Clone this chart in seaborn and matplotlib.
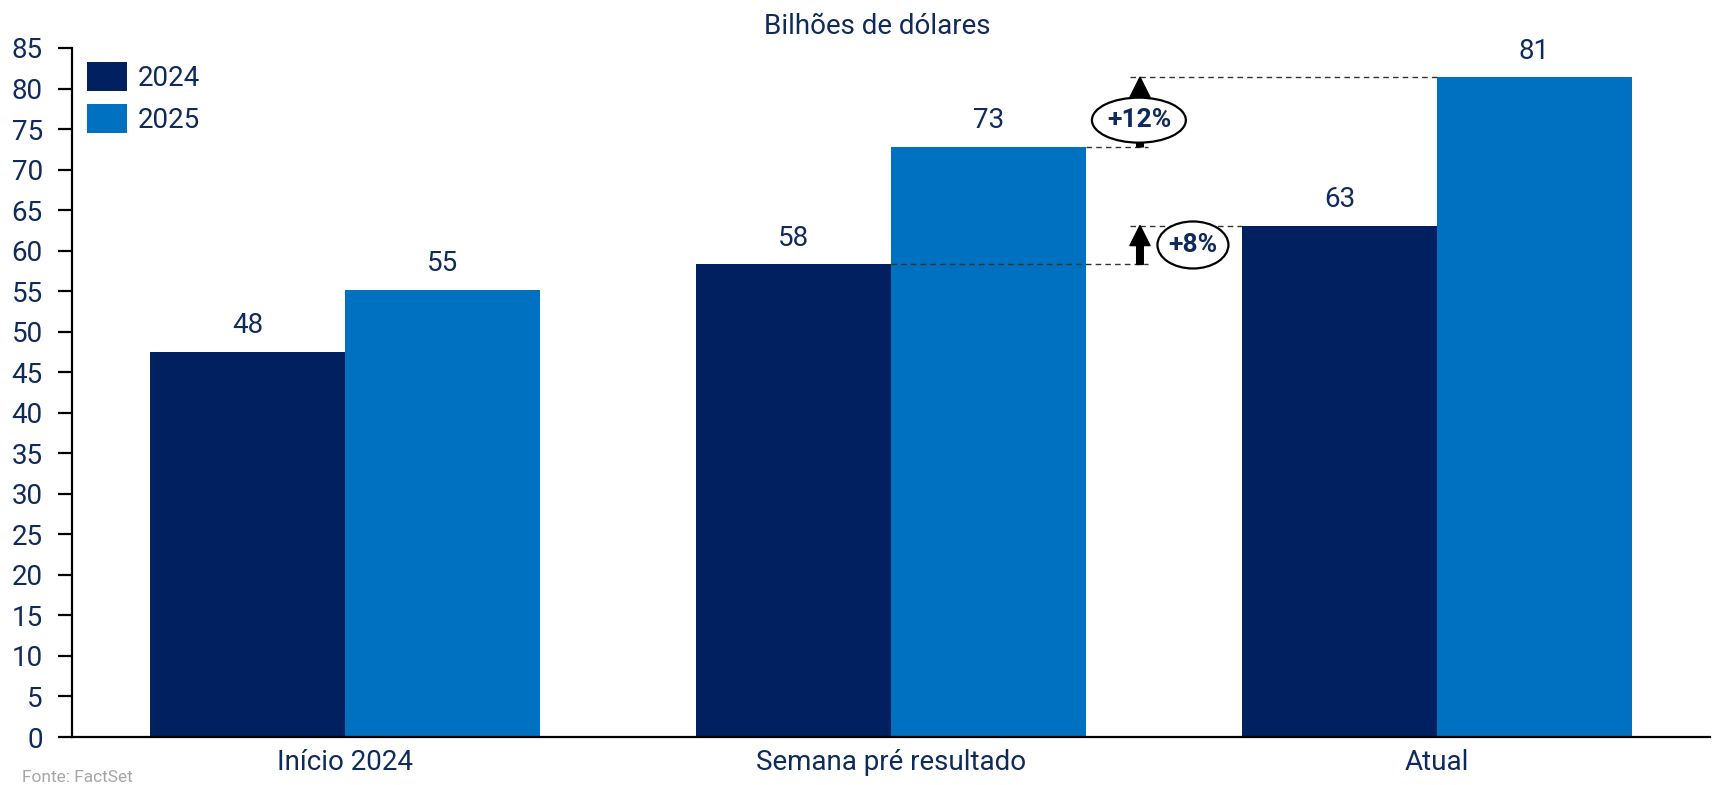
import matplotlib
matplotlib.use("Agg")
import matplotlib.pyplot as plt
import seaborn as sns
import pandas as pd
from matplotlib.patches import Ellipse

categories = ["Início 2024", "Semana pré resultado", "Atual"]
series = ["2024", "2025"]
values_2024 = [47.5, 58.3, 63.1]
values_2025 = [55.2, 72.8, 81.4]
yticks = list(range(0, 90, 5))
title = "Bilhões de dólares"
source = "Fonte: FactSet"
growth_labels = ["+8%", "+12%"]

TXT = "#0F2A5C"
colors = ["#002060", "#0070C0"]
FS = 20

sns.set_theme(style="white")
plt.rcParams["font.family"] = ["Roboto", "DejaVu Sans"]

df = pd.DataFrame({
    "cat": categories * 2,
    "ano": [series[0]] * 3 + [series[1]] * 3,
    "val": values_2024 + values_2025,
})

fig = plt.figure(figsize=(17.19, 7.85), dpi=100)
ax = fig.add_axes([72 / 1719, 48 / 785, (1710 - 72) / 1719, (737 - 48) / 785])

sns.barplot(data=df, x="cat", y="val", hue="ano", palette=colors, width=0.714,
            gap=0, ax=ax, saturation=1, errorbar=None, linewidth=0)

ax.set_xlim(-0.5, 2.5)
ax.set_ylim(0, 85)
ax.set_yticks(yticks)
ax.set_xlabel("")
ax.set_ylabel("")
for s in ["top", "right"]:
    ax.spines[s].set_visible(False)
for s in ["left", "bottom"]:
    ax.spines[s].set_color("black")
    ax.spines[s].set_linewidth(1.6)
ax.tick_params(axis="y", length=10, width=1.6, color="black", labelsize=FS,
               labelcolor=TXT, pad=11, left=True)
ax.tick_params(axis="x", length=0, labelsize=FS, labelcolor=TXT, pad=9)

for cont in ax.containers:
    ax.bar_label(cont, labels=[f"{v:.0f}" for v in cont.datavalues],
                 padding=9, fontsize=FS, color=TXT)

leg = ax.legend(loc="upper left", bbox_to_anchor=(-0.003, 1.008), frameon=False,
                fontsize=FS, handlelength=1.45, handleheight=1.25,
                handletextpad=0.4, labelspacing=0.42, borderaxespad=0.3)
for t in leg.get_texts():
    t.set_color(TXT)

bw = 0.357
dash = dict(color="#333333", linewidth=1.0, linestyle=(0, (4, 3)))
ax_x = 1.456
# +8%
ax.plot([1.0, 1.471], [values_2024[1]] * 2, **dash, zorder=5)
ax.plot([1.438, 2 - bw], [values_2024[2]] * 2, **dash, zorder=5)
# +12%
ax.plot([1 + bw, 1.471], [values_2025[1]] * 2, **dash, zorder=5)
ax.plot([1.438, 2.0], [values_2025[2]] * 2, **dash, zorder=5)

arrow = dict(arrowstyle="simple,head_length=0.85,head_width=0.85,tail_width=0.28",
             color="black", shrinkA=0, shrinkB=0, mutation_scale=17)
ax.annotate("", xy=(ax_x, values_2024[2]), xytext=(ax_x, values_2024[1]),
            arrowprops=arrow, zorder=6)
ax.annotate("", xy=(ax_x, values_2025[2]), xytext=(ax_x, values_2025[1]),
            arrowprops=arrow, zorder=6)

e1 = Ellipse((1.553, 60.7), 0.130, 5.8, facecolor="white", edgecolor="black",
             linewidth=1.6, zorder=7)
ax.add_patch(e1)
ax.text(1.553, 60.7, growth_labels[0], ha="center", va="center", fontsize=19,
        fontweight="bold", color=TXT, zorder=8)
e2 = Ellipse((1.454, 76.1), 0.172, 5.55, facecolor="white", edgecolor="black",
             linewidth=1.6, zorder=7)
ax.add_patch(e2)
ax.text(1.454, 76.1, growth_labels[1], ha="center", va="center", fontsize=19,
        fontweight="bold", color=TXT, zorder=8)

fig.text(877 / 1719, 1 - 27 / 785, title, ha="center", va="center",
         fontsize=FS, color=TXT)
fig.text(22 / 1719, 1 - 778 / 785, source, ha="left", va="center",
         fontsize=12.5, color="#A6A6A6")

fig.savefig("out.png", dpi=100)
